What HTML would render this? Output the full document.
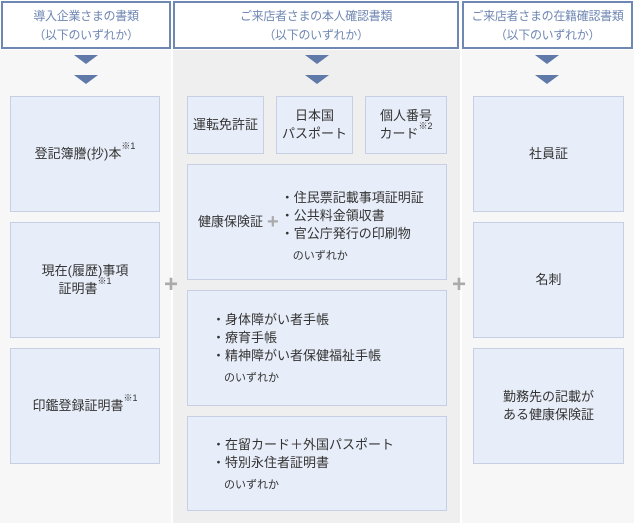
<!DOCTYPE html>
<html><head><meta charset="utf-8"><style>
body{margin:0;width:634px;height:523px;position:relative;overflow:hidden;background:#fff;font-family:"Liberation Sans","Noto Sans CJK JP",sans-serif;color:#333;font-size:13px}
.col{position:absolute;top:50px;height:473px}
.hd{position:absolute;top:1px;border:2px solid #6f87b3;background:#fff;color:#6f87b3;text-align:center;font-size:12px;line-height:19px;padding-top:4px;box-sizing:border-box;height:48px;white-space:nowrap;letter-spacing:-0.3px}
.tri{position:absolute;width:0;height:0;border-left:12px solid transparent;border-right:12px solid transparent;border-top:9px solid #5f79a8}
.bx{position:absolute;background:#e8eef9;border:1px solid #c6d0e2;box-sizing:border-box;display:flex;align-items:center;justify-content:center;text-align:center;line-height:18px}
.l{justify-content:flex-start;text-align:left}
sup{font-size:9px;vertical-align:top;position:relative;top:-3px;line-height:9px}
.s{font-size:11px}
.plus{position:absolute;color:#aaa;font-size:24px;font-weight:bold;line-height:20px}
</style></head><body>
<div class="col" style="left:0;width:171px;background:#f7f7f7"></div>
<div class="col" style="left:173px;width:287px;background:#efefef"></div>
<div class="col" style="left:462px;width:172px;background:#f7f7f7"></div>
<div class="hd" style="left:1px;width:170px">導入企業さまの書類<br>（以下のいずれか）</div>
<div class="hd" style="left:173px;width:286px">ご来店者さまの本人確認書類<br>（以下のいずれか）</div>
<div class="hd" style="left:462px;width:171px">ご来店者さまの在籍確認書類<br>（以下のいずれか）</div>
<div class="tri" style="left:74px;top:55px"></div><div class="tri" style="left:74px;top:75px"></div>
<div class="tri" style="left:305px;top:55px"></div><div class="tri" style="left:305px;top:75px"></div>
<div class="tri" style="left:535px;top:55px"></div><div class="tri" style="left:535px;top:75px"></div>

<div class="bx" style="left:10px;top:96px;width:150px;height:116px"><div>登記簿謄(抄)本<sup>※1</sup></div></div>
<div class="bx" style="left:10px;top:222px;width:150px;height:116px"><div>現在(履歴)事項<br>証明書<sup>※1</sup></div></div>
<div class="bx" style="left:10px;top:348px;width:150px;height:116px"><div>印鑑登録証明書<sup>※1</sup></div></div>

<div class="bx" style="left:187px;top:96px;width:77px;height:58px"><div>運転免許証</div></div>
<div class="bx" style="left:276px;top:96px;width:77px;height:58px"><div>日本国<br>パスポート</div></div>
<div class="bx" style="left:365px;top:96px;width:82px;height:58px"><div>個人番号<br>カード<sup>※2</sup></div></div>

<div class="bx l" style="left:187px;top:164px;width:260px;height:116px">
<div style="margin-left:10px">健康保険証</div>
<div style="color:#aaa;font-size:20px;font-weight:bold;margin:0 2px 0 4px">+</div>
<div style="margin-top:14px">・住民票記載事項証明証<br>・公共料金領収書<br>・官公庁発行の印刷物<br><span class="s" style="margin-left:12px;line-height:26px">のいずれか</span></div></div>

<div class="bx l" style="left:187px;top:290px;width:260px;height:116px">
<div style="margin-left:24px;margin-top:6px">・身体障がい者手帳<br>・療育手帳<br>・精神障がい者保健福祉手帳<br><span class="s" style="margin-left:12px;line-height:26px">のいずれか</span></div></div>

<div class="bx l" style="left:187px;top:416px;width:260px;height:95px">
<div style="margin-left:24px;margin-top:6px">・在留カード＋外国パスポート<br>・特別永住者証明書<br><span class="s" style="margin-left:12px;line-height:26px">のいずれか</span></div></div>

<div class="bx" style="left:473px;top:96px;width:151px;height:116px"><div>社員証</div></div>
<div class="bx" style="left:473px;top:222px;width:151px;height:116px"><div>名刺</div></div>
<div class="bx" style="left:473px;top:348px;width:151px;height:116px"><div>勤務先の記載が<br>ある健康保険証</div></div>

<div class="plus" style="left:164px;top:275px">+</div>
<div class="plus" style="left:452px;top:275px">+</div>
</body></html>
